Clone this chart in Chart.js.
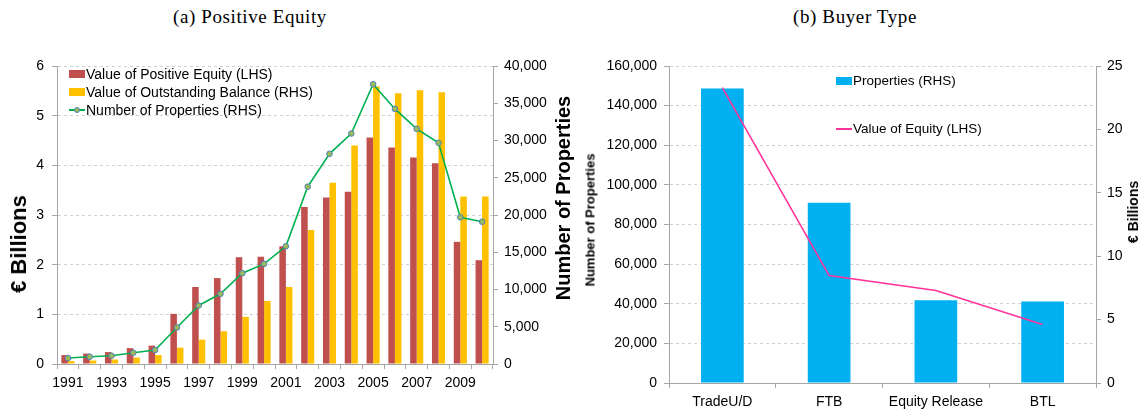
<!DOCTYPE html>
<html>
<head>
<meta charset="utf-8">
<script src="https://cdn.jsdelivr.net/npm/chart.js@4/dist/chart.umd.min.js"></script>
<style>
  body { margin: 0; background: #fff; width: 1146px; height: 412px; position: relative; overflow: hidden; font-family: 'Liberation Sans', Arial, sans-serif; }
  .title { position: absolute; top: 6px; font-family: 'Liberation Serif', serif; font-size: 19px; letter-spacing: 0.6px; color: #000; transform: translateX(-50%); white-space: nowrap; }
  .box { position: absolute; top: 0; }
  .axt { position: absolute; font-weight: bold; color: #000; white-space: nowrap; transform: translate(-50%, -50%) rotate(-90deg); }
  .legend { position: absolute; font-size: 14px; color: #000; white-space: nowrap; }
  .legend div { position: relative; height: 18px; line-height: 18px; padding-left: 17px; }
  .sw { position: absolute; left: 0; top: 5px; width: 16px; height: 8px; }
  .ln { position: absolute; left: 0; top: 8px; width: 16px; height: 2px; }
  .dot { position: absolute; left: 5px; top: 6px; width: 4px; height: 4px; border-radius: 50%; background: #9BBB59; border: 1px solid #4F81BD; }
</style>
</head>
<body>
<div class="title" style="left:250px">(a) Positive Equity</div>
<div class="title" style="left:855px">(b) Buyer Type</div>

<div class="box" style="left:0;width:600px;height:412px"><canvas id="equityChart" width="600" height="412"></canvas></div>
<div class="box" style="left:576px;width:570px;height:412px"><canvas id="buyerChart" width="570" height="412"></canvas></div>

<div class="axt" style="left:19px;top:244px;font-size:22px">€ Billions</div>
<div class="axt" style="left:563px;top:198px;font-size:20px">Number of Properties</div>
<div class="axt" style="left:590px;top:220px;font-size:13px">Number of Properties</div>
<div class="axt" style="left:1133px;top:212px;font-size:14px">€ Billions</div>

<div class="legend" style="left:69px;top:65px">
  <div><span class="sw" style="background:#C0504D"></span>Value of Positive Equity (LHS)</div>
  <div><span class="sw" style="background:#FFC000"></span>Value of Outstanding Balance (RHS)</div>
  <div><span class="ln" style="background:#00B050"></span><span class="dot"></span>Number of Properties (RHS)</div>
</div>
<div class="legend" style="left:836px;top:72px;font-size:13.5px">
  <div><span class="sw" style="background:#00B0F0"></span>Properties (RHS)</div>
  <div style="margin-top:30px"><span class="ln" style="background:#FF3399"></span>Value of Equity (LHS)</div>
</div>

<script>
// ── Data: (a) Positive Equity ──
const years = ['1991','1992','1993','1994','1995','1996','1997','1998','1999','2000',
               '2001','2002','2003','2004','2005','2006','2007','2008','2009','2010'];
const positiveEquity = [0.18,0.21,0.24,0.32,0.37,1.01,1.55,1.73,2.15,2.16,
                        2.37,3.16,3.35,3.47,4.56,4.36,4.16,4.04,2.46,2.09];
const outstandingBalance = [0.06,0.07,0.09,0.13,0.18,0.33,0.49,0.66,0.95,1.27,
                            1.55,2.70,3.65,4.40,5.59,5.45,5.51,5.47,3.37,3.37];
const numProperties = [800,980,1110,1510,1870,4900,7850,9420,12190,13440,
                       15800,23800,28210,30940,37550,34240,31560,29690,19690,19100];

// ── Data: (b) Buyer Type ──
const buyerTypes = ['TradeU/D','FTB','Equity Release','BTL'];
const buyerProperties = [148600,91000,41800,41100];
const buyerEquity = [23.3,8.47,7.29,4.61];

const FONT = "'Liberation Sans', Arial, sans-serif";
const AXIS = '#A6A6A6';
const GRID = '#D0D0D0';

Chart.defaults.font.family = FONT;
Chart.defaults.color = '#000';
Chart.defaults.animation = false;

const fmt = v => Number(v).toLocaleString('en-US');

function fixWidth(w) { return s => { s.width = w; }; }
function fixHeight(h) { return s => { s.height = h; }; }

// ── (a) Positive Equity ──
new Chart(document.getElementById('equityChart'), {
  data: {
    labels: years,
    datasets: [
      { type: 'line', label: 'Number of Properties (RHS)', data: numProperties, yAxisID: 'y1', order: 0,
        borderColor: '#00B050', borderWidth: 1.6, tension: 0,
        pointRadius: 2.8, pointBackgroundColor: '#9BBB59', pointBorderColor: '#4F81BD', pointBorderWidth: 1 },
      { type: 'bar', label: 'Value of Positive Equity (LHS)', data: positiveEquity, yAxisID: 'y', order: 1,
        backgroundColor: '#C0504D', categoryPercentage: 0.6, barPercentage: 1.0 },
      { type: 'bar', label: 'Value of Outstanding Balance (RHS)', data: outstandingBalance, yAxisID: 'y', order: 2,
        backgroundColor: '#FFC000', categoryPercentage: 0.6, barPercentage: 1.0 },
    ]
  },
  options: {
    responsive: false,
    devicePixelRatio: 1,
    layout: { padding: { top: 66, left: 0, right: 0, bottom: 0 } },
    plugins: { legend: { display: false }, tooltip: { enabled: false } },
    scales: {
      x: {
        offset: true,
        grid: { offset: true, drawOnChartArea: false, tickLength: 5, tickColor: AXIS },
        border: { color: AXIS, width: 1 },
        ticks: { autoSkip: false, maxRotation: 0, padding: 6, font: { size: 14 },
                 callback: (v, i) => (i % 2 === 0 ? years[i] : '') },
        afterFit: fixHeight(48),
      },
      y: {
        position: 'left', min: 0, max: 6,
        grid: { color: GRID, tickLength: 5, tickColor: AXIS },
        border: { color: AXIS, width: 1, dash: [3, 3] },
        ticks: { stepSize: 1, padding: 8, font: { size: 14 } },
        afterFit: fixWidth(57),
      },
      y1: {
        position: 'right', min: 0, max: 40000,
        grid: { drawOnChartArea: false, tickLength: 5, tickColor: AXIS },
        border: { color: AXIS, width: 1 },
        ticks: { stepSize: 5000, padding: 6, font: { size: 14 }, callback: fmt },
        afterFit: fixWidth(107),
      }
    }
  }
});

// ── (b) Buyer Type ──
new Chart(document.getElementById('buyerChart'), {
  data: {
    labels: buyerTypes,
    datasets: [
      { type: 'line', label: 'Value of Equity (LHS)', data: buyerEquity, yAxisID: 'y1', order: 0,
        borderColor: '#FF3399', borderWidth: 1.6, tension: 0, pointRadius: 0 },
      { type: 'bar', label: 'Properties (RHS)', data: buyerProperties, yAxisID: 'y', order: 1,
        backgroundColor: '#00B0F0', categoryPercentage: 1.0, barPercentage: 0.4 },
    ]
  },
  options: {
    responsive: false,
    devicePixelRatio: 1,
    layout: { padding: { top: 66, left: 0, right: 0, bottom: 0 } },
    plugins: { legend: { display: false }, tooltip: { enabled: false } },
    scales: {
      x: {
        offset: true,
        grid: { offset: true, drawOnChartArea: false, tickLength: 5, tickColor: AXIS },
        border: { color: AXIS, width: 1 },
        ticks: { autoSkip: false, maxRotation: 0, padding: 6, font: { size: 14 } },
        afterFit: fixHeight(29),
      },
      y: {
        position: 'left', min: 0, max: 160000,
        grid: { color: GRID, tickLength: 5, tickColor: AXIS },
        border: { color: AXIS, width: 1, dash: [3, 3] },
        ticks: { stepSize: 20000, padding: 7, font: { size: 14 }, callback: fmt },
        afterFit: fixWidth(93),
      },
      y1: {
        position: 'right', min: 0, max: 25,
        grid: { drawOnChartArea: false, tickLength: 5, tickColor: AXIS },
        border: { color: AXIS, width: 1 },
        ticks: { stepSize: 5, padding: 6, font: { size: 14 } },
        afterFit: fixWidth(50),
      }
    }
  }
});
</script>
</body>
</html>
